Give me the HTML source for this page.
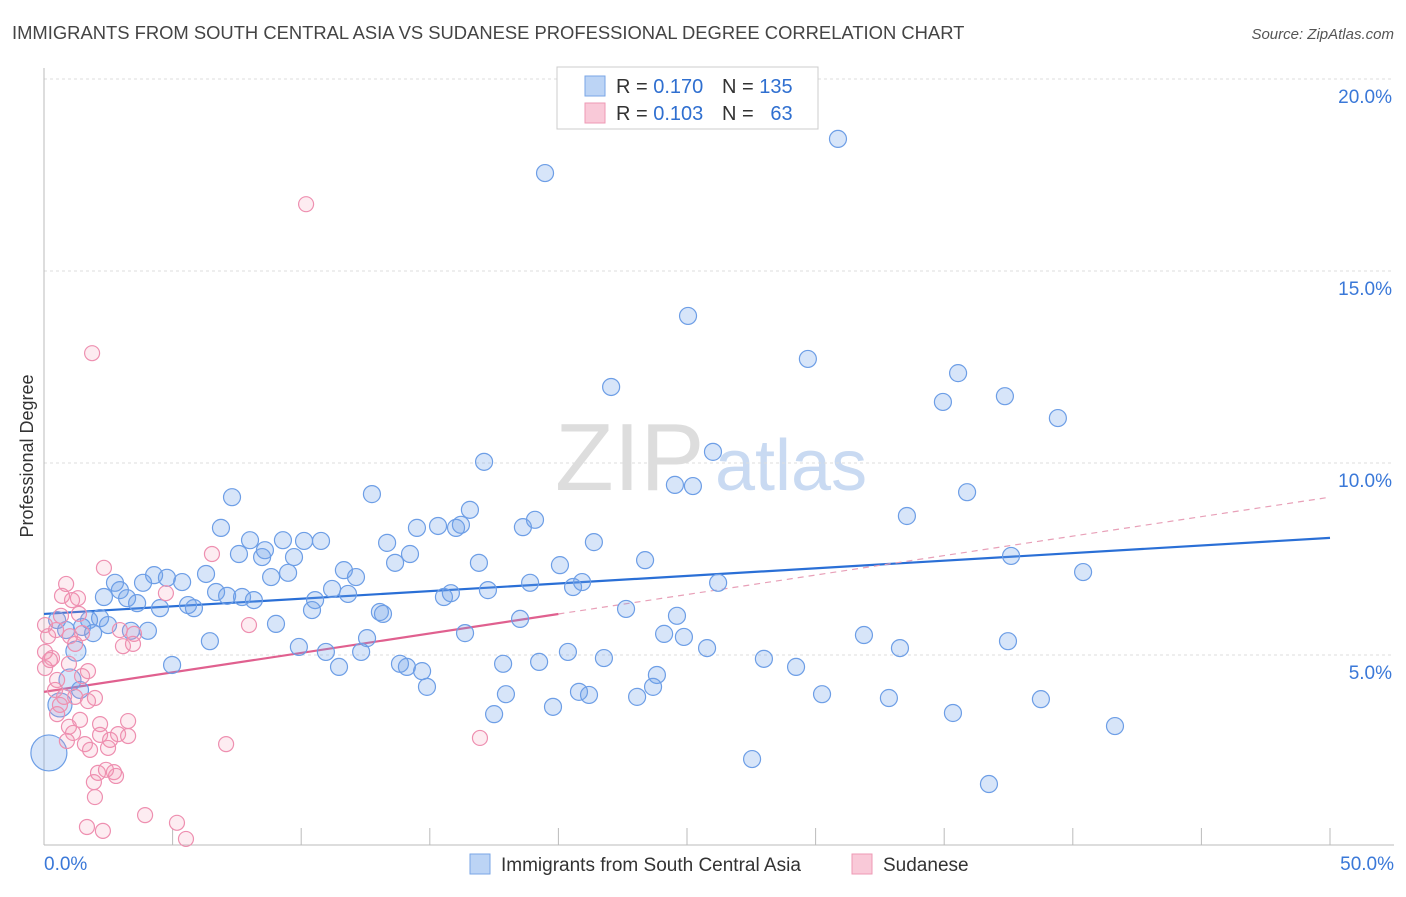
<!DOCTYPE html>
<html><head><meta charset="utf-8"><style>
body{margin:0;background:#fff;font-family:"Liberation Sans",sans-serif;}
svg text{font-family:"Liberation Sans",sans-serif;}
</style></head><body>
<svg id="chart" width="1406" height="892" viewBox="0 0 1406 892" xmlns="http://www.w3.org/2000/svg">
<text x="12" y="39" font-size="18.4" fill="#444">IMMIGRANTS FROM SOUTH CENTRAL ASIA VS SUDANESE PROFESSIONAL DEGREE CORRELATION CHART</text>
<text x="1394" y="39" font-size="15" fill="#555" text-anchor="end" font-style="italic">Source: ZipAtlas.com</text>
<text transform="translate(33,456) rotate(-90)" font-size="18" fill="#333" text-anchor="middle">Professional Degree</text>
<g>
<text x="555" y="490" font-size="96" fill="#ddd" font-family="Liberation Serif,serif">ZIP</text>
<text x="715" y="490" font-size="72" fill="#c9daf2">atlas</text>
</g>
<g id="grid"></g>
<g id="axes"></g>
<g id="trends"></g>
<g id="points"></g>
<g>
<rect x="557" y="67" width="261" height="62" fill="#fff" stroke="#ccc"/>
<rect x="585" y="76" width="20" height="20" fill="#bcd4f5" stroke="#7aa6e6"/>
<rect x="585" y="103" width="20" height="20" fill="#f9c9d8" stroke="#ee99b4"/>
<text x="616" y="93" font-size="20" fill="#333">R = <tspan fill="#2f6fd0">0.170</tspan></text>
<text x="722" y="93" font-size="20" fill="#333">N = <tspan fill="#2f6fd0">135</tspan></text>
<text x="616" y="120" font-size="20" fill="#333">R = <tspan fill="#2f6fd0">0.103</tspan></text>
<text x="722" y="120" font-size="20" fill="#333">N = <tspan fill="#2f6fd0">&#160; 63</tspan></text>
</g>
<g>
<rect x="470" y="854" width="20" height="20" fill="#bcd4f5" stroke="#7aa6e6"/>
<text x="501" y="871" font-size="19" fill="#333">Immigrants from South Central Asia</text>
<rect x="852" y="854" width="20" height="20" fill="#f9c9d8" stroke="#ee99b4"/>
<text x="883" y="871" font-size="19" fill="#333">Sudanese</text>
</g>
</svg>
<script>
const yTicks=[5,10,15,20];
const yTickLabels=["5.0%","10.0%","15.0%","20.0%"];
const xTickLabels=["0.0%","50.0%"];
const blueX=[30.87,19.48,25.04,29.70,22.05,35.54,34.95,37.36,39.42,17.11,26.01,24.53,25.23,35.89,7.31,12.75,33.55,16.56,19.09,18.62,16.21,15.32,16.02,14.50,6.88,8.01,9.29,10.11,10.77,13.34,21.38,14.23,7.58,8.48,9.72,8.59,16.91,20.06,23.37,13.65,11.66,37.60,40.40,6.30,4.28,4.78,5.37,3.85,2.76,2.95,9.49,8.83,12.13,11.20,11.82,15.55,15.82,17.26,18.90,20.57,20.92,26.21,6.69,7.12,7.70,8.16,2.33,3.23,3.62,5.60,5.83,4.51,10.54,10.42,13.06,13.18,22.63,24.61,18.51,2.18,1.75,2.49,1.48,1.91,3.38,4.04,9.02,16.37,24.11,24.88,31.88,6.45,12.56,9.91,10.96,12.33,20.37,21.77,25.78,33.28,37.48,4.98,11.47,13.84,14.11,14.70,17.85,19.25,27.99,29.24,23.83,14.89,23.68,17.96,20.80,21.19,23.06,30.25,32.85,38.76,19.79,17.50,35.34,41.64,27.53,36.74,0.86,0.51,1.40];
const blueY=[18.44,17.55,13.83,12.71,11.98,12.34,11.59,11.74,11.17,10.03,10.29,9.43,9.40,9.24,9.11,9.19,8.62,8.78,8.52,8.33,8.39,8.36,8.31,8.31,8.31,7.99,7.99,7.97,7.97,7.92,7.94,7.63,7.63,7.55,7.55,7.73,7.40,7.34,7.47,7.40,7.21,7.58,7.16,7.11,7.08,7.01,6.90,6.88,6.88,6.69,7.14,7.03,7.03,6.72,6.59,6.51,6.61,6.69,6.88,6.77,6.90,6.88,6.64,6.54,6.51,6.43,6.51,6.48,6.35,6.30,6.22,6.22,6.43,6.17,6.12,6.07,6.20,6.02,5.94,5.96,5.91,5.78,5.73,5.57,5.63,5.63,5.81,5.57,5.55,5.47,5.52,5.36,5.44,5.21,5.08,5.08,5.08,4.92,5.18,5.18,5.36,4.74,4.69,4.77,4.69,4.58,4.77,4.82,4.90,4.69,4.48,4.17,4.17,3.98,4.04,3.96,3.91,3.98,3.88,3.85,3.65,3.46,3.49,3.15,2.29,1.64,5.65,5.91,4.09];
const blueBigX=[1.24,1.01,0.62,0.19];
const blueBigY=[5.10,4.35,3.70,2.45];
const blueBigR=[10,11,12,18];
const pinkX=[10.19,1.87,2.33,6.53,0.86,1.36,0.66,0.04,0.47,1.01,1.48,2.95,3.50,4.74,7.97,3.07,3.46,0.04,0.31,0.97,1.71,0.04,0.51,1.48,1.21,0.78,1.98,1.71,0.62,0.51,1.40,2.18,3.27,0.97,1.13,2.18,2.88,3.27,0.89,1.59,2.49,7.08,16.95,2.10,2.72,2.80,1.94,1.98,1.67,2.29,3.93,5.17,5.52,0.23,1.21,0.43,2.57,0.70,1.32,0.16,1.09,1.79,2.41];
const pinkY=[16.74,12.86,7.27,7.63,6.85,6.07,6.02,5.78,5.65,5.49,5.57,5.65,5.55,6.61,5.78,5.23,5.29,5.08,4.92,4.77,4.58,4.66,4.35,4.45,3.91,3.91,3.88,3.80,3.70,3.46,3.31,3.20,3.28,3.13,2.97,2.92,2.94,2.89,2.76,2.68,2.58,2.68,2.84,1.93,1.95,1.85,1.69,1.30,0.52,0.42,0.83,0.63,0.21,4.87,5.29,4.09,2.79,6.54,6.48,5.49,6.43,2.53,2.01];
const blueTrend=[6.07,8.05];
const pinkTrend=[4.04,9.11];
const pinkSolidEnd=20;

const NS="http://www.w3.org/2000/svg";
const X0=44,X1=1330,Y0=847,PXY=38.4;
const sx=v=>X0+(X1-X0)*v/50;
const sy=v=>Y0-v*PXY;
function mk(tag,attrs,parent){const e=document.createElementNS(NS,tag);for(const k in attrs)e.setAttribute(k,attrs[k]);parent.appendChild(e);return e;}
const grid=document.getElementById('grid'),axes=document.getElementById('axes'),tr=document.getElementById('trends'),pts=document.getElementById('points');
yTicks.forEach((t,i)=>{
 const l=mk('line',{x1:X0,x2:1394,y1:sy(t),y2:sy(t),stroke:'#ddd','stroke-dasharray':'3,3'},grid);
 
 
 const tx=mk('text',{x:1392,y:sy(t)+24,'font-size':19,fill:'#3a78d8','text-anchor':'end'},axes);
 tx.textContent=yTickLabels[i];
 
 
});
const tg=mk('line',{x1:X0,x2:1394,y1:79,y2:79,stroke:'#ddd','stroke-dasharray':'3,3'},grid);


const ya=mk('line',{x1:X0,x2:X0,y1:68,y2:845,stroke:'#bbb'},axes);


const xa=mk('line',{x1:X0,x2:1394,y1:845,y2:845,stroke:'#bbb'},axes);


for(let i=0;i<=10;i++){
 const t=mk('line',{x1:sx(i*5),x2:sx(i*5),y1:828,y2:845,stroke:'#bbb'},axes);
 
 
}
[[0,'start',44],[50,'end',1394]].forEach((d,i)=>{
 const t=mk('text',{x:d[2],y:870,'font-size':19,fill:'#3a78d8','text-anchor':d[1]},axes);
 t.textContent=xTickLabels[i];
 
 
});
blueX.forEach((x,i)=>{
 const c=mk('circle',{cx:sx(x),cy:sy(blueY[i]),r:8.5,fill:'rgba(110,160,235,0.28)',stroke:'#6d9ee6','stroke-width':1.2},pts);
 
 
});
blueBigX.forEach((x,i)=>{
 const c=mk('circle',{cx:sx(x),cy:sy(blueBigY[i]),r:blueBigR[i],fill:'rgba(110,160,235,0.28)',stroke:'#6d9ee6','stroke-width':1.2},pts);
 
 
});
pinkX.forEach((x,i)=>{
 const c=mk('circle',{cx:sx(x),cy:sy(pinkY[i]),r:7.5,fill:'rgba(245,150,180,0.18)',stroke:'#ee8fb0','stroke-width':1.2},pts);
 
 
});
const bt=mk('line',{x1:sx(0),y1:sy(blueTrend[0]),x2:sx(50),y2:sy(blueTrend[1]),stroke:'#2a6fd6','stroke-width':2.2},tr);


const pAt=x=>pinkTrend[0]+(pinkTrend[1]-pinkTrend[0])*x/50;
const pt=mk('line',{x1:sx(0),y1:sy(pAt(0)),x2:sx(pinkSolidEnd),y2:sy(pAt(pinkSolidEnd)),stroke:'#e0608f','stroke-width':2.2},tr);


const pd=mk('line',{x1:sx(pinkSolidEnd),y1:sy(pAt(pinkSolidEnd)),x2:sx(50),y2:sy(pAt(50)),stroke:'#e8a0b8','stroke-width':1.2,'stroke-dasharray':'6,5'},tr);


</script>
</body></html>
